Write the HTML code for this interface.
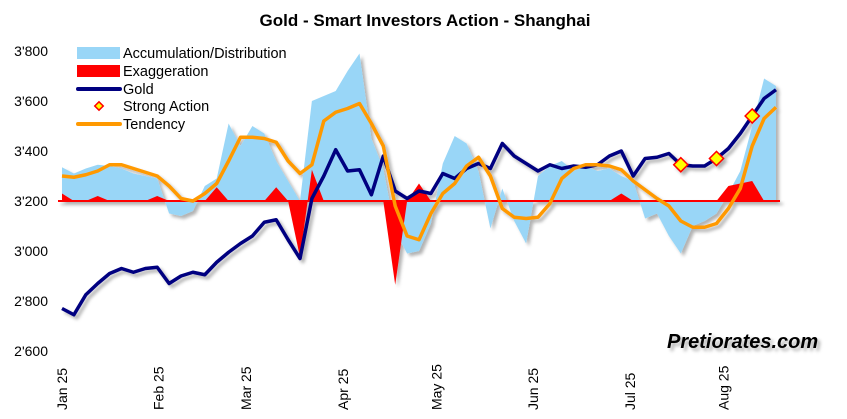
<!DOCTYPE html>
<html><head><meta charset="utf-8"><style>
body{margin:0;background:#fff;}
svg{display:block;font-family:"Liberation Sans",Arial,sans-serif;}
</style></head><body>
<svg id="chart" width="847" height="419" viewBox="0 0 847 419" xmlns="http://www.w3.org/2000/svg">
<defs>
<filter id="sh" x="-5%" y="-5%" width="115%" height="120%"><feDropShadow dx="3" dy="3" stdDeviation="1.5" flood-color="#000" flood-opacity="0.3"/></filter>
</defs>
<text x="425" y="26" text-anchor="middle" font-size="17" font-weight="bold">Gold - Smart Investors Action - Shanghai</text>
<g id="yaxis"></g>
<g id="xaxis"></g>
<g id="plot"></g>
<g font-size="14.5">
<rect x="77" y="47" width="43" height="12" fill="#99d6f7"/>
<text x="123" y="58">Accumulation/Distribution</text>
<rect x="77" y="65" width="43" height="12" fill="#ff0000"/>
<text x="123" y="76">Exaggeration</text>
<line x1="78" y1="89" x2="120" y2="89" stroke="#000080" stroke-width="4" stroke-linecap="round"/>
<text x="123" y="94">Gold</text>
<rect x="96" y="103" width="6" height="6" transform="rotate(45 99 106)" fill="#ffff00" stroke="#ff0000" stroke-width="1.5"/>
<text x="123" y="111">Strong Action</text>
<line x1="78" y1="124" x2="120" y2="124" stroke="#ff9900" stroke-width="4" stroke-linecap="round"/>
<text x="123" y="129">Tendency</text>
</g>
<text x="667" y="348" font-size="20" font-weight="bold" font-style="italic" filter="url(#sh)">Pretiorates.com</text>
</svg>
<script>
const xLabels=["Jan 25","Feb 25","Mar 25","Apr 25","May 25","Jun 25","Jul 25","Aug 25"];
const xLabelDays=[0,32,61,93,124,156,188,219];
const yTicks=[2600,2800,3000,3200,3400,3600,3800];
const yTickLabels=["2'600","2'800","3'000","3'200","3'400","3'600","3'800"];
const gold=[2770,2745,2825,2870,2910,2930,2915,2930,2935,2870,2900,2915,2905,2955,2995,3030,3060,3115,3125,3045,
2970,3210,3300,3405,3320,3325,3225,3380,3240,3210,3240,3230,3310,3290,3330,3350,3330,3430,3380,3350,
3320,3345,3330,3340,3335,3345,3380,3400,3300,3370,3375,3390,3345,3340,3340,3370,3410,3470,3540,3610,3645];
const tendency=[3300,3295,3305,3320,3345,3345,3330,3315,3300,3260,3210,3200,3230,3270,3360,3455,3455,3450,3435,3360,
3310,3345,3520,3555,3570,3590,3510,3420,3180,3060,3045,3150,3230,3270,3340,3375,3300,3170,3135,3130,
3135,3190,3290,3330,3345,3345,3340,3325,3280,3245,3210,3180,3120,3095,3095,3110,3170,3250,3420,3530,3575];
const accumulation=[3335,3310,3330,3345,3340,3330,3310,3300,3290,3150,3140,3160,3260,3290,3510,3420,3500,3470,3360,3280,
3200,3600,3620,3640,3720,3790,3450,3330,3080,2990,3000,3110,3350,3460,3430,3320,3090,3250,3120,3030,
3300,3340,3360,3320,3340,3320,3330,3300,3280,3130,3150,3060,2990,3100,3120,3150,3230,3320,3500,3690,3660];
const exaggeration=[3230,3200,3200,3220,3200,3200,3200,3200,3220,3200,3200,3200,3200,3255,3200,3200,3200,3200,3255,3200,
2975,3325,3200,3200,3200,3200,3200,3200,2865,3200,3270,3200,3200,3200,3200,3200,3200,3200,3200,3200,
3200,3200,3200,3200,3200,3200,3200,3230,3200,3200,3200,3200,3200,3200,3200,3200,3260,3270,3280,3200,3200];
const strongIdx=[52,55,58];
const baseline=3200;
const NS='http://www.w3.org/2000/svg';
const X0=62,X1=776,Y0=351,Y1=51,V0=2600,V1=3800;
const x=i=>X0+i*(X1-X0)/(gold.length-1);
const xd=d=>X0+d*3.02;
const y=v=>Y0+(v-V0)*(Y1-Y0)/(V1-V0);
function mk(t,a,p){const e=document.createElementNS(NS,t);for(const k in a)e.setAttribute(k,a[k]);p.appendChild(e);return e;}
const ya=document.getElementById('yaxis'),xa=document.getElementById('xaxis'),pl=document.getElementById('plot');
yTicks.forEach((v,i)=>{const t=mk('text',{x:48,y:y(v)+5,'text-anchor':'end','font-size':14},ya);t.textContent=yTickLabels[i];

});
xLabels.forEach((l,i)=>{const px=xd(xLabelDays[i])+5;const t=mk('text',{x:px,y:410,'font-size':14,transform:`rotate(-90 ${px} 410)`},xa);t.textContent=l;

});
function area(arr){let d=`M${x(0)},${y(baseline)}`;arr.forEach((v,i)=>d+=` L${x(i)},${y(v)}`);d+=` L${x(arr.length-1)},${y(baseline)} Z`;return d;}
function line(arr){return arr.map((v,i)=>(i?'L':'M')+x(i)+','+y(v)).join(' ');}
const g=mk('g',{filter:'url(#sh)'},pl);
const a=mk('path',{d:area(accumulation),fill:'#99d6f7'},g);


const e=mk('path',{d:area(exaggeration),fill:'#ff0000'},g);


const bl=mk('line',{x1:58,x2:780,y1:y(baseline),y2:y(baseline),stroke:'#ff0000','stroke-width':2},g);


const gl=mk('path',{d:line(gold),fill:'none',stroke:'#000080','stroke-width':3.5,'stroke-linejoin':'round'},g);


const tl=mk('path',{d:line(tendency),fill:'none',stroke:'#ff9900','stroke-width':3.5,'stroke-linejoin':'round'},g);


strongIdx.forEach(i=>{const cx=x(i),cy=y(gold[i]);const m=mk('rect',{x:cx-5,y:cy-5,width:10,height:10,fill:'#ffff00',stroke:'#ff0000','stroke-width':1.5,transform:`rotate(45 ${cx} ${cy})`},g);

});
</script>
</body></html>
